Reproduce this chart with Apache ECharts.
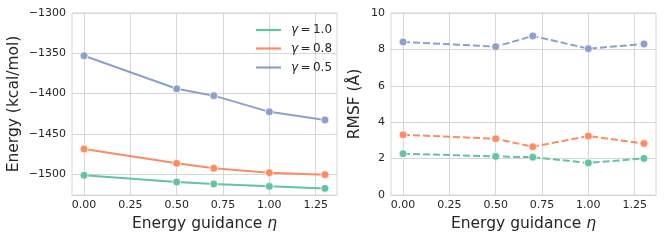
<!DOCTYPE html>
<html>
<head>
<meta charset="utf-8">
<script src="https://cdn.jsdelivr.net/npm/echarts@6/dist/echarts.min.js"></script>
<style>html,body{margin:0;padding:0;background:#fff}#c{width:664px;height:240px}</style>
</head>
<body>
<div id="c"></div>
<script>
var eta = [0, 0.5, 0.7, 1.0, 1.3];
var xTicks = [0, 0.25, 0.5, 0.75, 1.0, 1.25];
var energyTicks = [-1500, -1450, -1400, -1350, -1300];
var rmsfTicks = [0, 2, 4, 6, 8, 10];
var gammaLabels = ['1.0', '0.8', '0.5'];
var energyG10 = [-1501.3, -1509.6, -1512.0, -1515.0, -1517.5];
var energyG08 = [-1468.6, -1486.4, -1492.6, -1498.0, -1500.5];
var energyG05 = [-1353.0, -1394.0, -1402.5, -1422.6, -1432.6];
var rmsfG10 = [2.27, 2.12, 2.08, 1.76, 2.01];
var rmsfG08 = [3.31, 3.09, 2.65, 3.24, 2.83];
var rmsfG05 = [8.41, 8.15, 8.74, 8.04, 8.30];

var colors = ['#66c2a5', '#fc8d62', '#8da0cb'];
var FONT = 'DejaVu Sans';
var TXT = '#262626';
var GRID = '#d6d6d6';
var TITLE = 15.5;

function pairs(ys) { return eta.map(function (x, i) { return [x, ys[i]]; }); }
function fmtNum(v, d) { var s = Math.abs(v).toFixed(d); return (v < 0 ? '\u2212' : '') + s; }

function xAxisDef(gi) {
  return {
    type: 'value', gridIndex: gi, min: -0.065, max: 1.365,
    name: '{n|Energy guidance }{i|\u03b7}', nameLocation: 'middle', nameGap: 19,
    nameTextStyle: { rich: { n: { fontFamily: FONT, fontSize: TITLE, color: TXT }, i: { fontFamily: FONT, fontSize: TITLE, fontStyle: 'italic', color: TXT } } },
    axisLine: { show: true, lineStyle: { color: GRID, width: 1 } },
    axisTick: { show: false, customValues: xTicks },
    axisLabel: { customValues: xTicks, fontFamily: FONT, fontSize: 11, color: TXT, margin: 5, formatter: function (v) { return v.toFixed(2); } },
    splitLine: { show: true, lineStyle: { color: GRID, width: 1 } }
  };
}

var series = [];
var energySets = [energyG10, energyG08, energyG05];
var rmsfSets = [rmsfG10, rmsfG08, rmsfG05];
for (var k = 0; k < 3; k++) {
  series.push({
    type: 'line', name: 'g' + k, xAxisIndex: 0, yAxisIndex: 0, data: pairs(energySets[k]),
    symbol: 'circle', symbolSize: 8, smooth: false,
    lineStyle: { color: colors[k], width: 2 },
    itemStyle: { color: colors[k], borderColor: '#fff', borderWidth: 0.8 },
    z: 3, animation: false
  });
  series.push({
    type: 'line', name: 'r' + k, xAxisIndex: 1, yAxisIndex: 1, data: pairs(rmsfSets[k]),
    symbol: 'circle', symbolSize: 8,
    lineStyle: { color: colors[k], width: 2, type: [7, 3] },
    itemStyle: { color: colors[k], borderColor: '#fff', borderWidth: 0.8 },
    z: 3, animation: false
  });
}

var legendTops = [19, 37.5, 56.5];
var legends = [0, 1, 2].map(function (k) {
  return {
    left: 251, top: legendTops[k], orient: 'vertical',
    data: [{ name: 'g' + k, icon: 'rect' }],
    itemWidth: 25, itemHeight: 2.2, itemGap: 0,
    itemStyle: { color: colors[k], borderWidth: 0 },
    formatter: function () { return '{i|\u03b3}{t|\u2009=\u2009' + gammaLabels[k] + '}'; },
    textStyle: { padding: [0, 0, 0, 5], rich: { i: { fontFamily: FONT, fontSize: 12, fontStyle: 'italic', color: TXT }, t: { fontFamily: FONT, fontSize: 12, color: TXT } } },
    selectedMode: false
  };
});

var option = {
  animation: false,
  backgroundColor: '#fff',
  grid: [
    { left: 72, top: 13, width: 265, height: 182 },
    { left: 391, top: 13, width: 265, height: 182 }
  ],
  xAxis: [xAxisDef(0), xAxisDef(1)],
  yAxis: [
    {
      type: 'value', gridIndex: 0, min: -1525.7, max: -1300,
      name: 'Energy (kcal/mol)', nameLocation: 'middle', nameGap: 50,
      nameTextStyle: { fontFamily: FONT, fontSize: TITLE, color: TXT },
      axisLine: { show: true, lineStyle: { color: GRID } },
      axisTick: { show: false, customValues: energyTicks },
      axisLabel: { customValues: energyTicks, fontFamily: FONT, fontSize: 11, color: TXT, margin: 6, formatter: function (v) { return fmtNum(v, 0); } },
      splitLine: { show: true, lineStyle: { color: GRID } }
    },
    {
      type: 'value', gridIndex: 1, min: 0, max: 10, interval: 2,
      name: 'RMSF (\u00c5)', nameLocation: 'middle', nameGap: 28,
      nameTextStyle: { fontFamily: FONT, fontSize: TITLE, color: TXT },
      axisLine: { show: true, lineStyle: { color: GRID } },
      axisTick: { show: false },
      axisLabel: { fontFamily: FONT, fontSize: 11, color: TXT, margin: 6 },
      splitLine: { show: true, lineStyle: { color: GRID } }
    }
  ],
  legend: legends,
  graphic: [
    { type: 'rect', shape: { x: 72, y: 13, width: 265, height: 182 }, style: { fill: 'none', stroke: GRID, lineWidth: 1 }, z: 1, silent: true },
    { type: 'rect', shape: { x: 391, y: 13, width: 265, height: 182 }, style: { fill: 'none', stroke: GRID, lineWidth: 1 }, z: 1, silent: true }
  ],
  series: series
};
var chart = echarts.init(document.getElementById('c'), null, { renderer: 'canvas' });
chart.setOption(option);
</script>
</body>
</html>
